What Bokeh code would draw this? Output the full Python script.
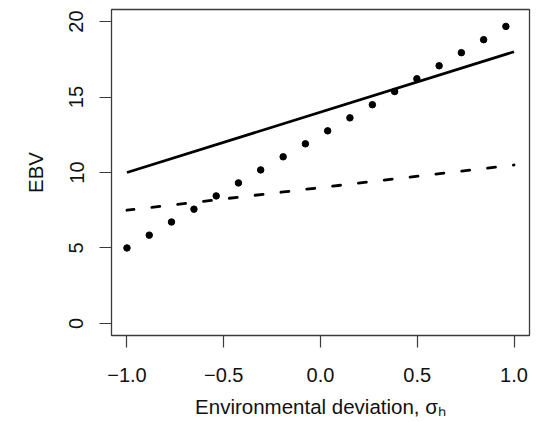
from bokeh.plotting import figure
from bokeh.models import Range1d, FixedTicker
from bokeh.embed import file_html
from bokeh.resources import INLINE

# Data
point_x = [-1.0, -0.885, -0.77, -0.654, -0.539, -0.424, -0.309, -0.193, -0.078,
           0.037, 0.152, 0.268, 0.383, 0.498, 0.613, 0.728, 0.843, 0.958]
point_y = [5.0, 5.85, 6.72, 7.57, 8.45, 9.31, 10.17, 11.04, 11.9,
           12.76, 13.62, 14.49, 15.36, 16.21, 17.07, 17.94, 18.8, 19.68]
solid_x = [-1.0, 1.0]
solid_y = [10.0, 18.0]
dashed_x = [-1.0, 1.0]
dashed_y = [7.5, 10.5]
x_ticks = [-1.0, -0.5, 0.0, 0.5, 1.0]
x_tick_labels = ["\u22121.0", "\u22120.5", "0.0", "0.5", "1.0"]
y_ticks = [0, 5, 10, 15, 20]

FONT = "Liberation Sans"
FS = "20px"
GREY = "#3a3a3a"

p = figure(width=537, height=422, output_backend="svg", toolbar_location=None,
           x_range=Range1d(-1.08, 1.08), y_range=Range1d(-0.8, 20.8),
           min_border_left=111, min_border_right=8, min_border_top=9,
           min_border_bottom=87)
p.background_fill_color = "white"
p.border_fill_color = "white"
p.outline_line_color = GREY
p.outline_line_width = 1.3
p.xgrid.visible = False
p.ygrid.visible = False

for ax in (p.xaxis[0], p.yaxis[0]):
    ax.axis_line_color = None
    ax.major_tick_line_color = GREY
    ax.major_tick_line_width = 1.2
    ax.major_tick_out = 12
    ax.major_tick_in = 0
    ax.minor_tick_line_color = None
    ax.major_label_text_font = FONT
    ax.major_label_text_font_size = FS
    ax.major_label_text_color = "#111111"
    ax.axis_label_text_font = FONT
    ax.axis_label_text_font_size = "20.5px"
    ax.axis_label_text_font_style = "normal"
    ax.axis_label_text_color = "#111111"

p.xaxis.ticker = FixedTicker(ticks=x_ticks)
p.xaxis.major_label_overrides = {t: l for t, l in zip(x_ticks, x_tick_labels)}
p.xaxis.major_label_standoff = 20
p.xaxis.axis_label = "Environmental deviation, \u03c3\u2095"
p.xaxis.axis_label_standoff = 10

p.yaxis.ticker = FixedTicker(ticks=y_ticks)
p.yaxis.major_label_orientation = "vertical"
p.yaxis.major_label_standoff = 16
p.yaxis.axis_label = "EBV"
p.yaxis.axis_label_standoff = 20

p.line(solid_x, solid_y, line_color="black", line_width=2.8)
p.line(dashed_x, dashed_y, line_color="black", line_width=2.8,
       line_dash="8 18", line_dash_offset=1, line_cap="round")
p.scatter(point_x, point_y, size=6.5, marker="circle",
          fill_color="black", line_color="black")

open("out.html", "w").write(file_html(p, INLINE))
